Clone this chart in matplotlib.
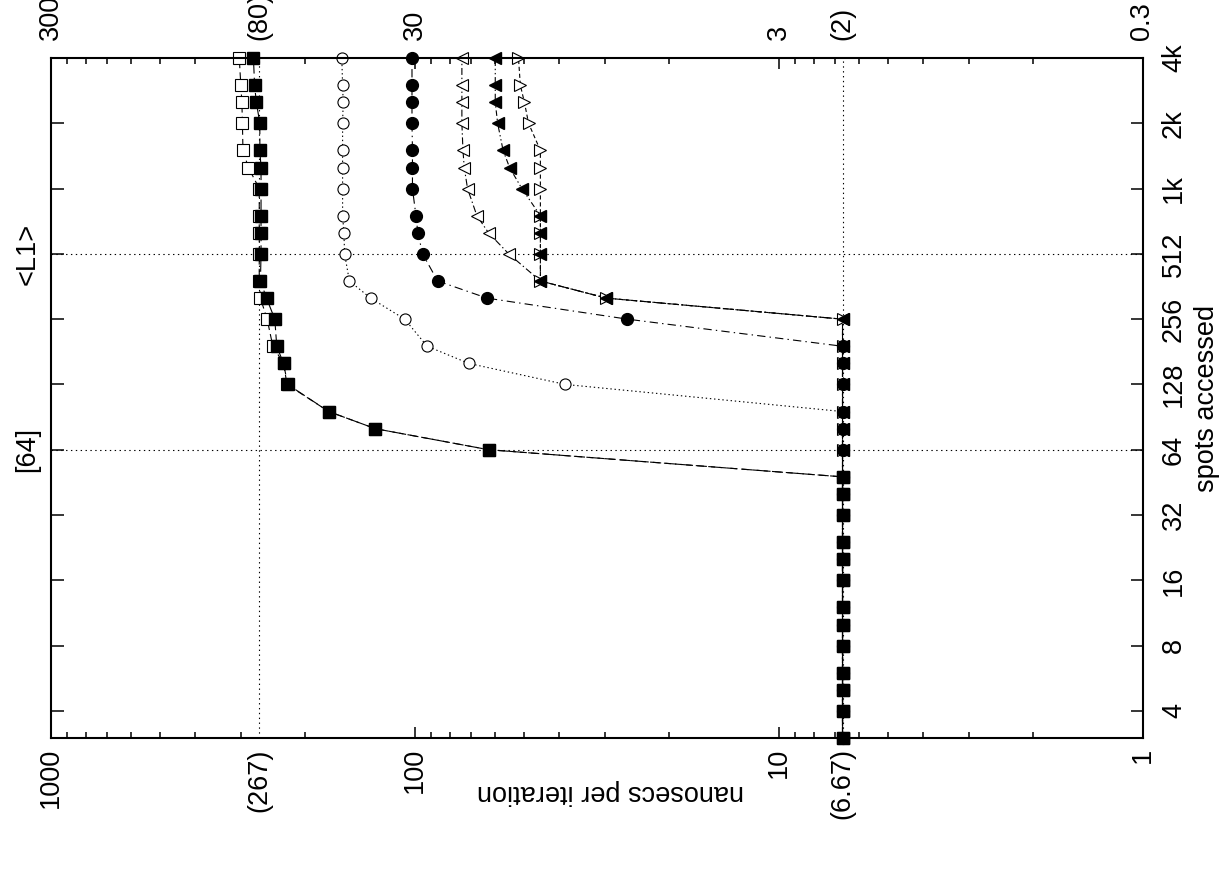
import numpy as np
import matplotlib.pyplot as plt
from matplotlib.ticker import LogLocator, NullFormatter, NullLocator

plt.rcParams['font.family'] = ['Liberation Sans', 'DejaVu Sans']
plt.rcParams['lines.scale_dashes'] = False

# spots accessed (y axis, log2)
spots = [3, 4, 5, 6, 8, 10, 12, 16, 20, 24, 32, 40, 48, 64, 80, 96, 128, 160,
         192, 256, 320, 384, 512, 640, 768, 1024, 1280, 1536, 2048, 2560, 3072, 4096]

# nanosecs per iteration for each series (x axis, log10, reversed)
filled_sq = [6.67] * 13 + [62.5, 128, 172, 223, 229, 239, 242, 255, 265, 264, 264,
                           264, 264, 264, 266, 266, 272, 275, 277]
open_sq = [6.67] * 13 + [62.5, 128, 172, 224, 229, 245, 254, 265, 267, 267, 267,
                         267, 267, 286, 296, 297, 298, 300, 303]
open_circ = [6.67] * 16 + [38.5, 70.9, 92.3, 106.4, 132, 151, 155.6, 156.3, 157.6,
                           157.6, 157.6, 157.6, 157.6, 157, 157.6, 158.4]
filled_circ = [6.67] * 19 + [26, 63.2, 86.4, 95.0, 97.9, 99.1, 101.3, 101.3, 101.3,
                             101.6, 101.6, 101.6, 101.6]
open_left = [6.67] * 20 + [29.7, 45.1, 55.1, 62.6, 67.4, 71.5, 73.0, 73.6, 74.1,
                           74.1, 74.1, 74.1]
filled_left = [6.67] * 20 + [29.7, 45.1, 45.1, 45.1, 45.1, 50.7, 54.8, 57.1, 59.1,
                             60.0, 60.0, 60.0]
open_right = [6.67] * 20 + [29.7, 45.1, 45.1, 45.1, 45.1, 45.1, 45.1, 45.1, 48.6,
                            49.9, 51.2, 51.8]

bottom_vals = [1000, 267, 100, 10, 6.67, 1]
bottom_labels = ['1000', '(267)', '100', '10', '(6.67)', '1']
top_labels = ['300', '(80)', '30', '3', '(2)', '0.3']
ytick_vals = [4, 8, 16, 32, 64, 128, 256, 512, 1024, 2048, 4096]
ytick_labels = ['4', '8', '16', '32', '64', '128', '256', '512', '1k', '2k', '4k']
grid_x = [267, 6.67]
grid_y = [64, 512]

FS = 19.5

fig = plt.figure(figsize=(12.24, 8.77), dpi=100)
ax = fig.add_axes([50.5 / 1224, 1 - 738 / 877, 1092 / 1224, 680 / 877])
ax.set_xscale('log')
ax.set_yscale('log', base=2)
ax.set_xlim(1000, 1)
ax.set_ylim(3, 4096)

for v in grid_x:
    ax.axvline(v, color='black', lw=0.8, ls=(0, (1, 2.5)), zorder=1)
for v in grid_y:
    ax.axhline(v, color='black', lw=0.8, ls=(0, (1, 2.5)), zorder=1)

kw = dict(color='black', lw=0.8, clip_on=False)
ax.plot(open_sq, spots, ls=(0, (5, 3)), marker='s', ms=9, mfc='white', mec='black', mew=0.8, **kw)
ax.plot(open_left, spots, ls=(0, (5, 2, 1, 2)), marker='<', ms=9, mfc='white', mec='black', mew=0.8, **kw)
ax.plot(open_right, spots, ls=(0, (3, 2)), marker='>', ms=9, mfc='white', mec='black', mew=0.8, **kw)
ax.plot(filled_left, spots, ls=(0, (4, 2, 1, 2, 1, 2)), marker='<', ms=9, mfc='black', mec='black', **kw)
ax.plot(open_circ, spots, ls=(0, (1, 2)), marker='o', ms=8, mfc='white', mec='black', mew=0.8, **kw)
ax.plot(filled_circ, spots, ls=(0, (6, 3, 1, 3)), marker='o', ms=8.5, mfc='black', mec='black', **kw)
ax.plot(filled_sq, spots, ls=(0, (8, 3)), marker='s', ms=9, mfc='black', mec='black', **kw)

# ticks
ax.set_xticks([1000, 100, 10, 1])
ax.xaxis.set_minor_locator(LogLocator(base=10, subs=np.arange(2, 10)))
ax.xaxis.set_major_formatter(NullFormatter())
ax.xaxis.set_minor_formatter(NullFormatter())
ax.tick_params(axis='x', which='both', direction='in', top=True, bottom=True,
               labelbottom=False, width=1.1)
ax.tick_params(axis='x', which='major', length=8)
ax.tick_params(axis='x', which='minor', length=4)
ax.set_yticks(ytick_vals)
ax.yaxis.set_minor_locator(NullLocator())
ax.yaxis.set_major_formatter(NullFormatter())
ax.tick_params(axis='y', direction='in', left=True, right=True, length=9, width=1.1,
               labelleft=False)
for s in ax.spines.values():
    s.set_linewidth(1.5)

xt = ax.get_xaxis_transform()
yt = ax.get_yaxis_transform()
for v, lb, lt in zip(bottom_vals, bottom_labels, top_labels):
    ax.text(v, -0.015, lb, transform=xt, rotation=90, ha='center', va='top', fontsize=FS)
    ax.text(v, 1.026, lt, transform=xt, rotation=90, ha='center', va='bottom', fontsize=FS)
for v, lab in zip(ytick_vals, ytick_labels):
    ax.text(1.017, v, lab, transform=yt, rotation=90, ha='left', va='center', fontsize=FS)

ax.text(-0.021, 64, '[64]', transform=yt, rotation=90, ha='center', va='center', fontsize=FS)
ax.text(-0.021, 512, '<L1>', transform=yt, rotation=90, ha='center', va='center', fontsize=FS)

fig.text(1207 / 1224, 1 - 398 / 877, 'spots accessed', rotation=90, ha='center', va='center', fontsize=FS)
fig.text(610 / 1224, 1 - 792 / 877, 'nanosecs per iteration', rotation=180, ha='center', va='center', fontsize=FS)

fig.savefig('out.png', dpi=100)
